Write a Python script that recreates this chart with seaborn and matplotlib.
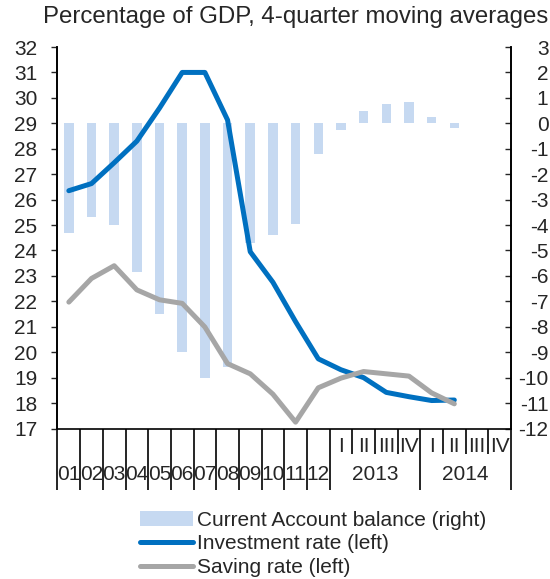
import numpy as np
import pandas as pd
import matplotlib
matplotlib.use("Agg")
import matplotlib.pyplot as plt
import seaborn as sns
from matplotlib.patches import Patch
from matplotlib.lines import Line2D
from matplotlib.transforms import blended_transform_factory

sns.set_style("white")
plt.rcParams['font.family'] = ['Liberation Sans', 'DejaVu Sans']

# ---------------- data ----------------
categories = ["01", "02", "03", "04", "05", "06", "07", "08", "09", "10", "11", "12",
              "2013 I", "2013 II", "2013 III", "2013 IV",
              "2014 I", "2014 II", "2014 III", "2014 IV"]
annual_labels = ["01", "02", "03", "04", "05", "06", "07", "08", "09", "10", "11", "12"]
quarter_labels = ["I", "II", "III", "IV", "I", "II", "III", "IV"]
year_labels = ["2013", "2014"]

current_account = [-4.3, -3.7, -4.0, -5.85, -7.5, -9.0, -10.0, -9.6, -4.7, -4.4,
                   -3.95, -1.2, -0.25, 0.48, 0.76, 0.85, 0.26, -0.2]
investment_rate = [26.35, 26.63, 27.45, 28.3, 29.6, 31.0, 31.0, 29.13, 23.95, 22.75,
                   21.2, 19.74, 19.31, 19.0, 18.42, 18.25, 18.1, 18.12]
saving_rate = [21.97, 22.9, 23.4, 22.45, 22.06, 21.92, 20.99, 19.55, 19.15, 18.35,
               17.25, 18.6, 18.98, 19.24, 19.15, 19.06, 18.4, 17.97]

legend_labels = ["Current Account balance (right)", "Investment rate (left)", "Saving rate (left)"]
title = "Percentage of GDP, 4-quarter moving averages"

bar_color = "#c6d9f1"
inv_color = "#0070c0"
sav_color = "#a6a6a6"
FS = 15

# ---------------- figure ----------------
fig = plt.figure(figsize=(5.5, 5.79), dpi=100)
L, R, T, B = 57.5 / 550, 511 / 550, 1 - 47 / 579, 1 - 428.5 / 579
ax_bar = fig.add_axes([L, B, R - L, T - B])

df_bar = pd.DataFrame({"cat": categories[:len(current_account)], "val": current_account})
sns.barplot(data=df_bar, x="cat", y="val", order=categories, color=bar_color,
            saturation=1, width=0.42, errorbar=None, ax=ax_bar, linewidth=0)

ax_line = ax_bar.twinx()
sns.lineplot(x=np.arange(len(investment_rate)), y=investment_rate, color=inv_color,
             linewidth=3.6, ax=ax_line)
sns.lineplot(x=np.arange(len(saving_rate)), y=saving_rate, color=sav_color,
             linewidth=3.6, ax=ax_line)

# axis ranges
ax_bar.set_xlim(-0.5, 19.5)
ax_bar.set_ylim(-12, 3)
ax_line.set_ylim(17, 32)

# left axis (lines)
ax_line.yaxis.tick_left()
ax_line.yaxis.set_label_position("left")
ax_line.set_yticks(range(17, 33))
ax_line.tick_params(axis="y", direction="out", length=4.5, width=1, pad=10, labelsize=FS)
ax_line.tick_params(axis="x", which="both", bottom=False, labelbottom=False)
ax_line.set_ylabel("")

# right axis (bars)
ax_bar.yaxis.tick_right()
ax_bar.set_yticks(range(-12, 4))
ax_bar.set_yticklabels([str(v) for v in range(-12, 4)])
ax_bar.tick_params(axis="y", direction="in", length=4.5, width=1, pad=27, labelsize=FS)
for lab in ax_bar.get_yticklabels():
    lab.set_horizontalalignment("right")
ax_bar.set_ylabel("")
ax_bar.set_xlabel("")

# x ticks: long at annual / year boundaries, short at quarter boundaries
major = list(np.arange(-0.5, 12, 1.0)) + [15.5, 19.5]
minor = [12.5, 13.5, 14.5, 16.5, 17.5, 18.5]
ax_bar.set_xticks(major)
ax_bar.set_xticklabels([""] * len(major))
ax_bar.set_xticks(minor, minor=True)
ax_bar.tick_params(axis="x", which="major", direction="out", length=44, width=1.2,
                   bottom=True, color="black")
ax_bar.tick_params(axis="x", which="minor", direction="out", length=18, width=1.2,
                   bottom=True, color="black")

for a in (ax_bar, ax_line):
    a.spines["top"].set_visible(False)
    for s in ["left", "right", "bottom"]:
        a.spines[s].set_color("black")
        a.spines[s].set_linewidth(1.2)
ax_line.spines["bottom"].set_visible(False)

tr = blended_transform_factory(ax_bar.transData, ax_bar.transAxes)
ann_y = -(475 - 428.5) / (428.5 - 47)
q_y = -(446 - 428.5) / (428.5 - 47)
for i, lab in enumerate(annual_labels):
    ax_bar.text(i, ann_y, lab, transform=tr, ha="center", va="center", fontsize=FS)
for j, lab in enumerate(quarter_labels):
    ax_bar.text(12 + j, q_y, lab, transform=tr, ha="center", va="center", fontsize=FS)
ax_bar.text(13.5, ann_y, year_labels[0], transform=tr, ha="center", va="center", fontsize=FS)
ax_bar.text(17.5, ann_y, year_labels[1], transform=tr, ha="center", va="center", fontsize=FS)

fig.text(548 / 550, 1 - 17 / 579, title, ha="right", va="center", fontsize=17.3)

handles = [Patch(facecolor=bar_color, edgecolor="none"),
           Line2D([], [], color=inv_color, linewidth=3.6),
           Line2D([], [], color=sav_color, linewidth=3.6)]
fig.legend(handles, legend_labels, loc="lower left", bbox_to_anchor=(140 / 550, 2 / 579),
           frameon=False, fontsize=FS, handlelength=2.55, handletextpad=0.2,
           labelspacing=0.22, borderpad=0, borderaxespad=0)

fig.savefig("out.png", dpi=100)
